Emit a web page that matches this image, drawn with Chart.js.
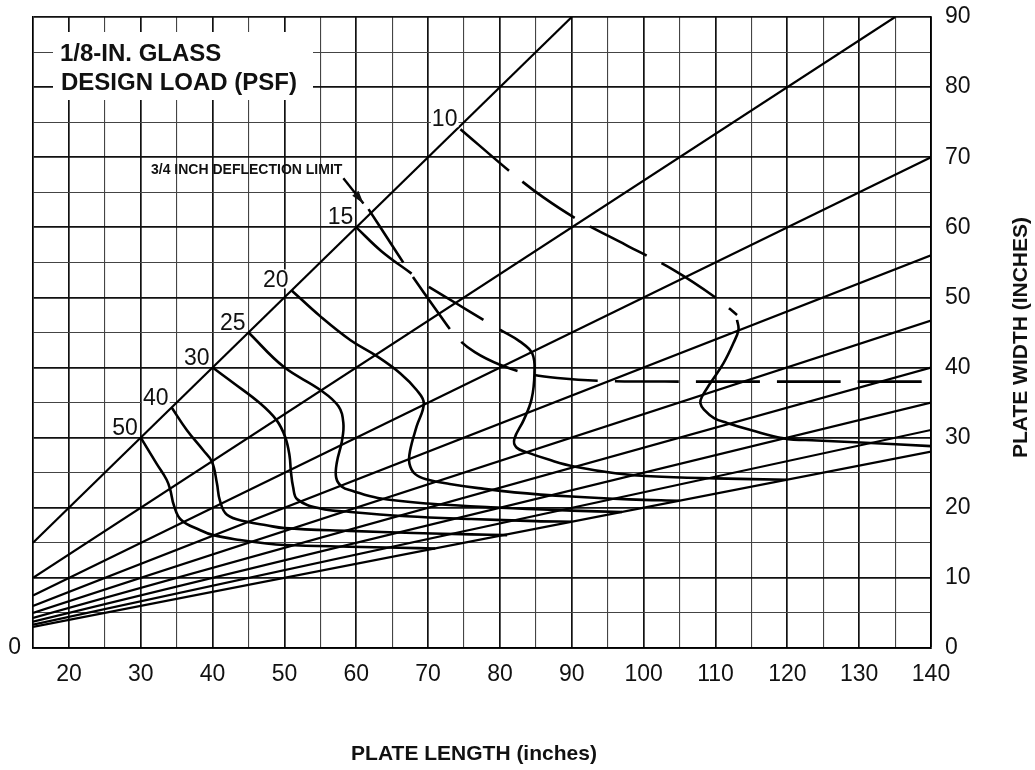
<!DOCTYPE html>
<html lang="en">
<head>
<meta charset="UTF-8">
<title>1/8-in. Glass Design Load</title>
<style>
  html, body { margin: 0; padding: 0; background: #fff; }
  #wrap { width: 1035px; height: 770px; }
</style>
</head>
<body>
<div id="wrap"><canvas id="glassChart"></canvas></div>
<script src="https://cdn.jsdelivr.net/npm/chart.js"></script>
<script>
// tick labels
const xTickLabels = [20, 30, 40, 50, 60, 70, 80, 90, 100, 110, 120, 130, 140];
const yTickLabels = [0, 10, 20, 30, 40, 50, 60, 70, 80, 90];

// aspect ratio lines (length / width = 1, 1.5, 2 ... 5)
const ratioLines = [
  [[15, 15], [90, 90]],
  [[15, 10], [135, 90]],
  [[15, 7.5], [140, 70]],
  [[15, 6], [140, 56]],
  [[15, 5], [140, 46.7]],
  [[15, 4.3], [140, 40]],
  [[15, 3.75], [140, 35]],
  [[15, 3.33], [140, 31.1]],
  [[15, 3], [140, 28]]
];

// design load curves (psf)
const load50 = [[30, 30], [32.2, 26.3], [33.6, 24], [34.1, 22.6], [34.6, 20.4], [35.6, 18.3], [38.3, 16.8], [40.1, 16.1], [43.8, 15.4], [47.5, 14.9], [50, 14.7], [59, 14.45], [66, 14.3], [71, 14.2]];
const load40 = [[34.3, 34.3], [36.4, 31.1], [38.7, 28.2], [39.9, 26.6], [40.6, 23.5], [41, 21.1], [42, 19], [44.8, 18], [47.5, 17.5], [50, 17.1], [59, 16.7], [68, 16.4], [76, 16.2], [81, 16.1]];
const load30 = [[40, 40], [42.9, 37.8], [46.6, 34.9], [48.9, 32.5], [50.1, 30.1], [50.7, 27.5], [50.9, 25.2], [51.2, 23], [51.8, 21.2], [55, 19.9], [59.2, 19.4], [67, 18.8], [76, 18.4], [85, 18.1], [90, 18]];
const load25 = [[45, 45], [49.9, 40.1], [55, 36.8], [57.5, 34.5], [58.2, 32.1], [58, 29.5], [57.3, 26.5], [57.2, 24.3], [58, 23], [59.5, 22.4], [63, 21.4], [70, 20.6], [80, 20], [90, 19.6], [97, 19.4]];
const load20 = [[51, 51], [55, 47.3], [59.2, 43.9], [62.9, 41.6], [66.1, 39.2], [68.4, 36.8], [69.4, 34.9], [68.4, 31.6], [67.5, 28.2], [67.4, 26.3], [68.2, 24.8], [70, 24], [73, 23.4], [77, 22.8], [82, 22.2], [90, 21.6], [98, 21.2], [105, 21]];
const load15Top = [[60, 60], [63.5, 56.6], [67.7, 53.4]];
const load15Mid = [[70.1, 51.5], [74, 49.1], [77.7, 46.8]];
const load15Low = [[80, 45.4], [82.8, 43.7], [84.5, 42], [84.8, 39.2], [84.4, 35.5], [83.3, 32.5], [82, 29.8], [82.3, 28.6], [83.8, 27.9], [87, 26.8], [90.3, 25.9], [96.3, 24.9], [101, 24.5], [110, 24.2], [120, 24]];
const load10Top = [[74.5, 74], [81.7, 67.7], [86, 64.3], [91, 61], [97.5, 57.5], [104.2, 53.9], [110, 50], [113, 47.5]];
const load10Low = [[113, 46.8], [113.2, 45.4], [112.5, 43.5], [111.1, 40.6], [109.3, 37.8], [108.1, 35.8], [107.9, 34.9], [108.4, 34], [109.8, 32.8], [111.6, 32.1], [114.9, 31.1], [119.5, 29.9], [124.1, 29.6], [130.2, 29.3], [140, 28.8]];
const loadNames = ['50', '40', '30', '25', '20', '15', '10'];

// 3/4 inch deflection limit
const deflectionLimit = [[61.7, 62.6], [64.5, 58.2], [67.5, 53.5], [71, 48.4], [74, 44.3], [76.5, 42.2], [80, 40.4], [84, 39.1], [88, 38.5], [94, 38.1], [105, 38], [140, 38]];
const deflectionArrow = [[58.2, 67], [61, 63.4]];

const INK = '#111';
const FONT = "'Liberation Sans', Arial, Helvetica, sans-serif";
Chart.defaults.font.family = FONT;
Chart.defaults.color = INK;

const toPts = arr => arr.map(p => ({ x: p[0], y: p[1] }));

function lineSet(points, extra) {
  return Object.assign({
    data: toPts(points),
    borderColor: '#000',
    borderWidth: 2,
    pointRadius: 0,
    tension: 0,
    fill: false,
    yAxisID: 'y'
  }, extra || {});
}

const DASH = [64, 17];
const datasets = [];
ratioLines.forEach(l => datasets.push(lineSet(l, { borderWidth: 2.2 })));
[load50, load40, load30, load25, load20, load15Top, load15Low, load10Low].forEach(c =>
  datasets.push(lineSet(c, { borderWidth: 2.6, tension: 0.4 })));
[load15Mid, load10Top, deflectionLimit].forEach(c =>
  datasets.push(lineSet(c, { borderWidth: 2.6, tension: 0.35, borderDash: DASH })));
datasets.push(lineSet(deflectionArrow, { borderWidth: 2.4 }));

// which curve starts carry a load label
const labelledCurves = [load50, load40, load30, load25, load20, load15Top, load10Top];

function gridTicks(min, max) {
  return scale => {
    const t = [];
    for (let v = min; v <= max; v += 5) t.push({ value: v });
    scale.ticks = t;
  };
}
// fixed axis box sizes, no automatic label padding
function fixBox(w, h) {
  return s => {
    if (w !== null) s.width = w;
    if (h !== null) s.height = h;
    s.paddingTop = 0; s.paddingBottom = 0; s.paddingLeft = 0; s.paddingRight = 0;
  };
}
const isMajor = c => c.tick && c.tick.value % 10 === 0;
const gridOpts = {
  drawTicks: false,
  color: c => isMajor(c) ? '#111' : '#444',
  lineWidth: c => isMajor(c) ? 1.7 : 1.1
};
const borderOpts = { display: true, color: '#000', width: 1.7 };

const chartText = {
  id: 'chartText',
  beforeDatasetsDraw(chart) {
    const { ctx, chartArea: a } = chart;
    ctx.save();
    ctx.fillStyle = '#fff';
    ctx.fillRect(a.left + 20, a.top + 15, 260, 68);
    ctx.fillStyle = INK;
    ctx.font = 'bold 24px ' + FONT;
    ctx.textAlign = 'left';
    ctx.textBaseline = 'middle';
    ctx.fillText('1/8-IN. GLASS', a.left + 27, a.top + 37);
    ctx.fillText('DESIGN LOAD (PSF)', a.left + 28, a.top + 66);
    ctx.restore();
  },
  afterDatasetsDraw(chart) {
    const { ctx, scales: { x, y } } = chart;
    ctx.save();
    // load labels at the start of each curve
    ctx.font = '23px ' + FONT;
    ctx.textAlign = 'right';
    ctx.textBaseline = 'alphabetic';
    labelledCurves.forEach((c, i) => {
      const px = x.getPixelForValue(c[0][0]) - 3;
      const py = y.getPixelForValue(c[0][1]) - 3;
      const w = ctx.measureText(loadNames[i]).width;
      ctx.fillStyle = '#fff';
      ctx.fillRect(px - w - 1, py - 18, w + 2, 19);
      ctx.fillStyle = INK;
      ctx.fillText(loadNames[i], px, py);
    });
    // deflection limit label + arrow head
    const tx = x.getPixelForValue(deflectionArrow[0][0]);
    const ty = y.getPixelForValue(deflectionArrow[0][1]);
    const hx = x.getPixelForValue(deflectionArrow[1][0]);
    const hy = y.getPixelForValue(deflectionArrow[1][1]);
    ctx.font = 'bold 14px ' + FONT;
    ctx.textBaseline = 'middle';
    ctx.fillText('3/4 INCH DEFLECTION LIMIT', tx - 1, ty - 8);
    const ang = Math.atan2(hy - ty, hx - tx);
    ctx.beginPath();
    ctx.moveTo(hx, hy);
    ctx.lineTo(hx - 13 * Math.cos(ang) + 4 * Math.sin(ang), hy - 13 * Math.sin(ang) - 4 * Math.cos(ang));
    ctx.lineTo(hx - 13 * Math.cos(ang) - 4 * Math.sin(ang), hy - 13 * Math.sin(ang) + 4 * Math.cos(ang));
    ctx.closePath();
    ctx.fill();
    ctx.restore();
  },
  afterDraw(chart) {
    const { ctx, chartArea: a } = chart;
    ctx.save();
    ctx.fillStyle = INK;
    ctx.font = 'bold 21px ' + FONT;
    ctx.textAlign = 'center';
    ctx.textBaseline = 'middle';
    ctx.fillText('PLATE LENGTH (inches)', (a.left + a.right) / 2 - 8, a.bottom + 106);
    ctx.translate(a.right + 90, (a.top + a.bottom) / 2 + 5);
    ctx.rotate(-Math.PI / 2);
    ctx.fillText('PLATE WIDTH (INCHES)', 0, 0);
    ctx.restore();
  }
};

new Chart(document.getElementById('glassChart'), {
  type: 'line',
  data: { datasets: datasets },
  plugins: [chartText],
  options: {
    responsive: true,
    maintainAspectRatio: false,
    animation: false,
    layout: { autoPadding: false, padding: { top: 17, left: 0, right: 0, bottom: 0 } },
    plugins: { legend: { display: false }, tooltip: { enabled: false } },
    scales: {
      x: {
        type: 'linear', min: 15, max: 140,
        afterBuildTicks: gridTicks(15, 140),
        afterFit: fixBox(null, 122),
        ticks: {
          autoSkip: false, maxRotation: 0, padding: 13,
          font: { size: 23 },
          callback: v => xTickLabels.includes(v) ? String(v) : ''
        },
        grid: gridOpts,
        border: borderOpts
      },
      y: {
        type: 'linear', position: 'left', min: 0, max: 90,
        afterBuildTicks: gridTicks(0, 90),
        afterFit: fixBox(33, null),
        ticks: { padding: 12, font: { size: 23 }, callback: v => v === 0 ? '0' : '' },
        grid: gridOpts,
        border: borderOpts
      },
      y2: {
        type: 'linear', position: 'right', min: 0, max: 90,
        afterBuildTicks: gridTicks(0, 90),
        afterFit: fixBox(104, null),
        ticks: { padding: 14, font: { size: 23 }, callback: v => yTickLabels.includes(v) ? String(v) : '' },
        grid: { display: false, drawTicks: false },
        border: borderOpts
      }
    }
  }
});
</script>
</body>
</html>
